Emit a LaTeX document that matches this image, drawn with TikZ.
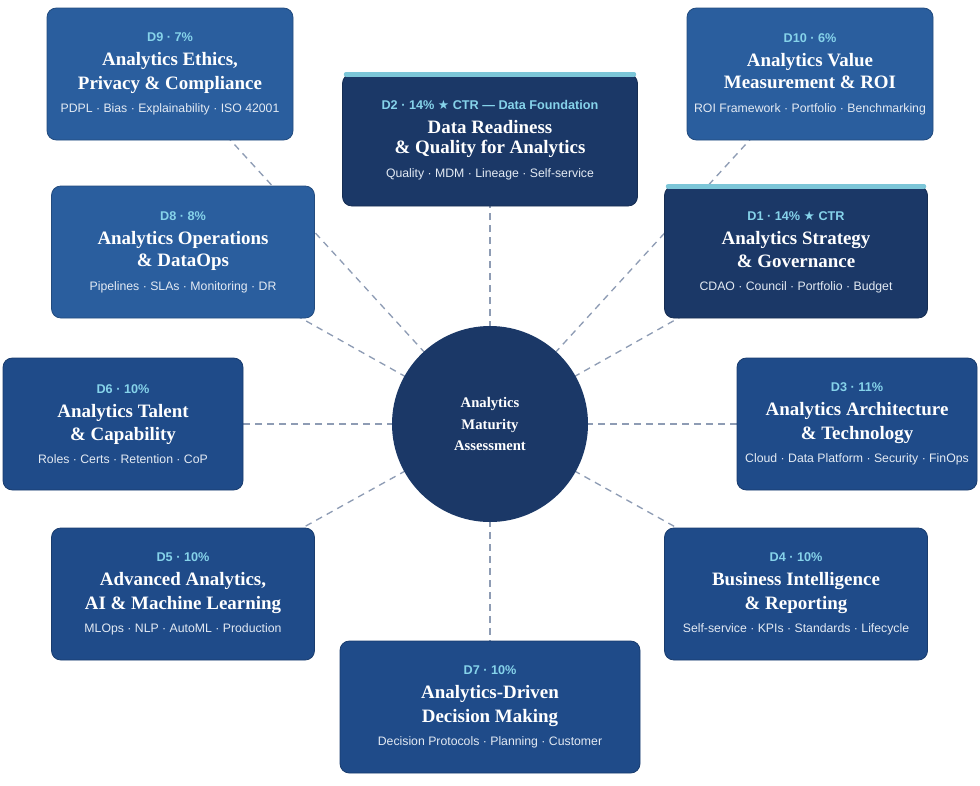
\documentclass[tikz,border=0pt]{standalone}
\usepackage{fontspec}
\setmainfont{Liberation Serif}
\setsansfont{Liberation Sans}
\newfontfamily\symfont{DejaVu Sans}
\usepackage{tikz}
\usetikzlibrary{positioning,calc}
\definecolor{boxlite}{HTML}{2A5E9E}
\definecolor{boxmid}{HTML}{1F4B89}
\definecolor{boxdark}{HTML}{1B3867}
\definecolor{tagc}{HTML}{86D3EA}
\definecolor{subc}{HTML}{E3EAF3}
\definecolor{barc}{HTML}{7CC6D8}
\definecolor{linkc}{HTML}{8E9CB4}
\tikzset{
  dbox/.style={rounded corners=7pt,draw=#1!80!black,line width=.6pt,fill=#1,
    minimum height=99pt,align=center,inner sep=0pt,text=white},
  link/.style={draw=linkc,line width=1pt,dash pattern=on 5pt off 4pt},
  ctr/.style={draw=barc,line width=3.5pt,line cap=round},
}
\newcommand*{\tagf}{\color{tagc}\sffamily\bfseries\fontsize{9.5}{11}\selectfont}
\newcommand*{\ttlf}{\color{white}\rmfamily\bfseries\fontsize{14.2}{16}\selectfont}
\newcommand*{\subf}{\color{subc}\sffamily\mdseries\fontsize{9.2}{10}\selectfont}
\newcommand*{\dtxt}[4]{\tagf #1\\[6pt]\ttlf #2\\[3.5pt]\ttlf #3\\[5.5pt]\subf #4}
\newcommand*{\st}{{\symfont\char"2605}}

\begin{document}
\begin{tikzpicture}[x=0.75pt,y=-0.75pt]
\useasboundingbox (0,0) rectangle (980,785);
\coordinate (c) at (490,424);
% spokes first, boxes cover them
\foreach \q in {(170,74),(490,140),(810,74),(183,252),(796,252),(123,424),(857,424),(183,594),(796,594),(490,707)}
  \draw[link] (c) -- \q;
\node[circle,fill=boxdark,minimum size=147pt,inner sep=0pt,align=center,text=white,
  font=\bfseries\fontsize{11}{16}\selectfont] (hub) at (c) {Analytics\\Maturity\\Assessment};
\node[dbox=boxlite,minimum width=184.5pt] (d9) at (170,74)
  {\dtxt{D9 · 7\%}{Analytics Ethics,}{Privacy \& Compliance}{PDPL · Bias · Explainability · ISO 42001}};
\node[dbox=boxdark,minimum width=221.25pt] (d2) at (490,140)
  {\dtxt{D2 · 14\% \st{} CTR — Data Foundation}{Data Readiness}{\& Quality for Analytics}{Quality · MDM · Lineage · Self-service}};
\draw[ctr] ($(d2.north west)+(3pt,-.5pt)$) -- ($(d2.north east)+(-3pt,-.5pt)$);
\node[dbox=boxlite,minimum width=184.5pt] (d10) at (810,74)
  {\dtxt{D10 · 6\%}{Analytics Value}{Measurement \& ROI}{ROI Framework · Portfolio · Benchmarking}};
\node[dbox=boxlite,minimum width=197.25pt] (d8) at (183,252)
  {\dtxt{D8 · 8\%}{Analytics Operations}{\& DataOps}{Pipelines · SLAs · Monitoring · DR}};
\node[dbox=boxdark,minimum width=197.25pt] (d1) at (796,252)
  {\dtxt{D1 · 14\% \st{} CTR}{Analytics Strategy}{\& Governance}{CDAO · Council · Portfolio · Budget}};
\draw[ctr] ($(d1.north west)+(3pt,-.5pt)$) -- ($(d1.north east)+(-3pt,-.5pt)$);
\node[dbox=boxmid,minimum width=180pt] (d6) at (123,424)
  {\dtxt{D6 · 10\%}{Analytics Talent}{\& Capability}{Roles · Certs · Retention · CoP}};
\node[dbox=boxmid,minimum width=180pt] (d3) at (857,424)
  {\dtxt{D3 · 11\%}{Analytics Architecture}{\& Technology}{Cloud · Data Platform · Security · FinOps}};
\node[dbox=boxmid,minimum width=197.25pt] (d5) at (183,594)
  {\dtxt{D5 · 10\%}{Advanced Analytics,}{AI \& Machine Learning}{MLOps · NLP · AutoML · Production}};
\node[dbox=boxmid,minimum width=197.25pt] (d4) at (796,594)
  {\dtxt{D4 · 10\%}{Business Intelligence}{\& Reporting}{Self-service · KPIs · Standards · Lifecycle}};
\node[dbox=boxmid,minimum width=225pt] (d7) at (490,707)
  {\dtxt{D7 · 10\%}{Analytics-Driven}{Decision Making}{Decision Protocols · Planning · Customer}};
\end{tikzpicture}
\end{document}
